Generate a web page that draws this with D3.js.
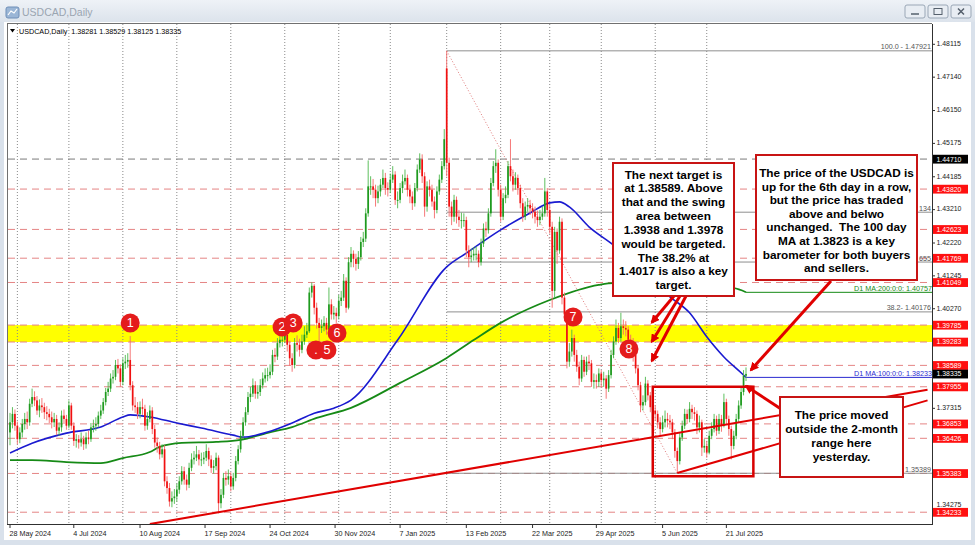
<!DOCTYPE html>
<html><head><meta charset="utf-8">
<script src="https://cdn.jsdelivr.net/npm/d3@7"></script>
<style>html,body{margin:0;padding:0;background:#fff;overflow:hidden}svg{display:block}</style>
</head><body>
<svg id="c" width="975" height="545"></svg>
<script>
// ---------------- DATA (prices x 10000) ----------------
const closeP = [
13690,13715,13680,13640,13660,13685,13700,13690,13745,13765,
13755,13725,13740,13735,13720,13715,13705,13690,13700,13665,
13675,13710,13700,13680,13740,13680,13635,13640,13630,13640,
13625,13645,13640,13675,13680,13685,13710,13725,13750,13780,
13790,13820,13825,13860,13850,13810,13865,13870,13875,13800,
13740,13735,13715,13735,13730,13680,13700,13725,13670,13630,
13620,13595,13610,13515,13495,13455,13465,13470,13490,13515,
13545,13520,13505,13555,13580,13585,13595,13580,13580,13585,
13605,13580,13555,13560,13585,13450,13475,13525,13520,13530,
13500,13525,13575,13610,13650,13690,13720,13765,13775,13800,
13775,13780,13800,13820,13830,13830,13840,13890,13885,13925,
13935,13935,13950,13920,13880,13860,13925,13920,13905,13930,
13950,13960,14075,14095,14030,13985,13970,13975,13985,13965,
14040,14010,14015,14005,14050,14060,14110,14030,14165,14190,
14175,14160,14180,14225,14235,14310,14390,14390,14380,14355,
14375,14395,14415,14385,14380,14410,14425,14350,14350,14385,
14405,14415,14380,14360,14340,14385,14440,14470,14420,14330,
14390,14380,14345,14320,14375,14410,14450,14530,14460,14330,
14300,14350,14300,14290,14290,14290,14200,14180,14185,14190,
14190,14165,14220,14265,14260,14310,14400,14450,14460,14380,
14300,14355,14365,14450,14420,14395,14415,14385,14340,14300,
14330,14335,14325,14315,14300,14290,14300,14310,14375,14320,
14270,14080,14255,14200,14285,14060,14010,13870,13900,13940,
13890,13855,13820,13875,13840,13870,13865,13810,13815,13810,
13835,13815,13820,13790,13830,13890,13930,13970,13940,13975,
13970,13965,13935,13930,13890,13850,13800,13740,13750,13805,
13770,13735,13725,13715,13690,13670,13690,13700,13695,13690,
13660,13605,13575,13645,13680,13715,13700,13730,13720,13715,
13675,13690,13615,13620,13600,13650,13670,13700,13665,13700,
13680,13750,13700,13670,13620,13650,13700,13740,13780,13828.1,
13833.5];
const highP = [
13718,13735,13728,13692,13675,13700,13718,13722,13760,13790,
13782,13768,13758,13762,13748,13738,13730,13722,13718,13712,
13690,13725,13728,13712,13755,13748,13690,13655,13652,13660,
13650,13660,13665,13688,13698,13705,13722,13742,13762,13792,
13810,13835,13845,13875,13878,13862,13880,13890,13895,13946,
13812,13765,13750,13752,13760,13742,13720,13740,13735,13682,
13645,13632,13625,13622,13530,13510,13485,13492,13508,13530,
13560,13558,13535,13570,13598,13605,13620,13608,13600,13602,
13625,13615,13592,13578,13600,13592,13492,13540,13545,13550,
13542,13540,13590,13622,13665,13705,13735,13780,13795,13820,
13812,13800,13818,13838,13850,13852,13862,13905,13910,13940,
13955,13960,13975,13962,13932,13895,13940,13948,13938,13950,
13975,13985,14090,14105,14100,14045,14000,13995,14005,14000,
14090,14055,14035,14030,14068,14080,14130,14120,14180,14210,
14200,14190,14198,14240,14255,14325,14467,14420,14412,14395,
14392,14412,14440,14430,14402,14428,14450,14435,14375,14400,
14425,14440,14425,14395,14375,14400,14455,14488,14485,14432,
14405,14410,14395,14360,14390,14425,14465,14560,14792,14475,
14345,14365,14360,14320,14312,14310,14300,14215,14205,14210,
14212,14200,14235,14280,14285,14325,14415,14465,14500,14470,
14395,14370,14390,14465,14530,14440,14432,14425,14395,14355,
14345,14355,14350,14340,14330,14318,14320,14330,14415,14385,
14335,14285,14270,14265,14300,14295,14075,14020,13925,13965,
13950,13905,13870,13890,13885,13885,13890,13875,13835,13832,
13850,13845,13840,13830,13845,13905,13945,13995,13985,14015,
13995,13990,13975,13950,13940,13900,13860,13810,13770,13825,
13815,13780,13752,13740,13725,13705,13710,13725,13718,13712,
13700,13670,13615,13660,13695,13730,13728,13750,13742,13735,
13725,13710,13698,13640,13635,13665,13690,13715,13710,13715,
13712,13775,13760,13710,13680,13665,13715,13755,13795,13845,
13852.9];
const lowP = [
13622,13672,13665,13625,13628,13645,13668,13670,13680,13735,
13738,13712,13705,13718,13700,13696,13688,13672,13676,13652,
13650,13662,13685,13668,13672,13668,13620,13615,13612,13618,
13608,13612,13625,13632,13660,13665,13675,13700,13715,13740,
13768,13780,13805,13815,13835,13795,13800,13848,13852,13785,
13725,13718,13700,13702,13712,13665,13668,13690,13655,13615,
13600,13580,13585,13500,13478,13440,13438,13448,13455,13478,
13505,13505,13488,13495,13545,13565,13575,13562,13560,13566,
13575,13560,13540,13538,13548,13420,13435,13465,13502,13505,
13485,13490,13515,13565,13600,13640,13680,13712,13750,13765,
13760,13760,13768,13790,13808,13812,13820,13830,13868,13875,
13912,13915,13925,13900,13858,13840,13850,13900,13885,13895,
13920,13940,13955,14060,14010,13968,13930,13955,13960,13950,
13955,13995,13995,13985,13995,14035,14050,14015,14025,14150,
14150,14140,14145,14170,14210,14225,14300,14365,14355,14330,
14340,14360,14385,14365,14360,14370,14400,14335,14325,14340,
14370,14395,14360,14340,14320,14330,14375,14430,14400,14300,
14315,14360,14330,14295,14310,14365,14400,14440,14420,14300,
14275,14285,14280,14270,14265,14270,14180,14150,14165,14170,
14170,14150,14155,14210,14240,14250,14300,14390,14430,14360,
14285,14290,14340,14355,14405,14375,14380,14365,14325,14285,
14290,14315,14305,14295,14280,14270,14275,14290,14300,14300,
14250,14030,14060,14160,14190,14040,13990,13850,13855,13885,
13870,13840,13800,13810,13825,13830,13845,13795,13790,13790,
13795,13795,13795,13760,13780,13820,13880,13920,13925,13930,
13950,13945,13915,13905,13870,13835,13785,13720,13725,13740,
13755,13720,13705,13695,13672,13650,13660,13675,13675,13670,
13640,13585,13539,13565,13635,13670,13685,13690,13700,13695,
13655,13660,13590,13600,13585,13595,13640,13660,13650,13655,
13662,13675,13685,13650,13580,13610,13640,13690,13730,13770,
13812.5];
// opens equal the previous close, except at these bars (weekend gap / first bar)
const openOverride = {0: 13660, 178: 14740};

// moving averages (bar index, price)
const ma100Idx = [0,9,23,37,46,49,57,68,78,91,95,105,115,124,132,139,158,178,186,200,212,220,224,228,236,246,269,277,284,291,298,300];
const ma100Val = [1.3599,1.3628,1.3658,1.3676,1.3706,1.3712,1.3706,1.3688,1.3673,1.3652,1.3646,1.3661,1.3688,1.3717,1.3732,1.3756,1.3934,1.4151,1.4192,1.4261,1.4311,1.4341,1.4344,1.4329,1.4270,1.4216,1.4062,1.4015,1.3944,1.3884,1.3837,1.3823];
const ma200Idx = [0,9,23,37,46,57,61,70,84,94,105,115,125,139,159,178,189,200,220,240,246,295,300];
const ma200Val = [1.3578,1.3578,1.3572,1.3569,1.3584,1.3602,1.3617,1.3629,1.3632,1.3638,1.3659,1.3676,1.3703,1.3733,1.3807,1.3881,1.3934,1.3985,1.4053,1.4098,1.4103,1.4088,1.4076];

// horizontal levels
const redLevels = [1.43820,1.42623,1.41769,1.41049,1.39785,1.39283,1.38589,1.37955,1.36853,1.36426,1.35383,1.34233];
const greyLevel = 1.44710;
const lastPrice = 1.38335;
const zoneTop = 1.39785, zoneBottom = 1.39283;

// fibonacci (anchors: bar 178 high, bar 272 low); labels as visible (partly hidden behind callouts)
const fibIdx = [178, 272];
const fibPrices = [1.47921,1.43134,1.41655,1.40176,1.35389];
const fibLabels = ["100.0 - 1.47921","134","655","38.2- 1.40176","1.35389"];

// axis ticks
const yTicks = [1.48115,1.47140,1.46150,1.45175,1.44185,1.43210,1.42220,1.41245,1.40270,1.37315,1.34275];
const xTickIdx = [0,26,53,79.5,106,132.5,159,186,213,239,266,292];
const xTickLab = ["28 May 2024","4 Jul 2024","10 Aug 2024","17 Sep 2024","24 Oct 2024","30 Nov 2024","7 Jan 2025","13 Feb 2025","22 Mar 2025","29 Apr 2025","5 Jun 2025","21 Jul 2025"];
const gridIdx = [3,24,46,68,90,112,134,155,178,200,220,241,263,284];

// trend lines (bar index, price)
const trend1 = [[57, 1.33881],[374, 1.37866]];
const trend2 = [[272, 1.35396],[374, 1.37550]];
// 2-month range box
const rangeBox = {i0: 262, i1: 303, top: 1.37955, bottom: 1.35300};

// numbered markers
const markerIdx = [49, 110.9, 115.4, 124.7, 129.2, 133.3, 229.5, 252.3];
const markerPrice = [1.39846,1.39727,1.39846,1.39044,1.39044,1.39549,1.40024,1.39074];
const markerText = ["1","2","3",".","5","6","7","8"];

const headerText = "USDCAD,Daily  1.38281 1.38529 1.38125 1.38335";

// ---------------- LAYOUT ----------------
const PL = 8, PR = 932, PT = 24, PB = 524;
const x = d3.scaleLinear().domain([0, 300]).range([10, 746]);
const y = d3.scaleLinear().domain([1.34275, 1.48115]).range([510.8, 44.3]);
const svg = d3.select("#c");
const FONT = "'Liberation Sans', Arial, sans-serif";

const defs = svg.append("defs");
defs.append("clipPath").attr("id","plot").append("rect").attr("x",PL).attr("y",PT).attr("width",PR-PL).attr("height",PB-PT);
const gr = defs.append("linearGradient").attr("id","tb").attr("x1",0).attr("y1",0).attr("x2",0).attr("y2",1);
gr.append("stop").attr("offset","0").attr("stop-color","#eef2f7");
gr.append("stop").attr("offset","1").attr("stop-color","#dce3ec");
defs.append("marker").attr("id","ah").attr("viewBox","0 0 10 10").attr("refX",8).attr("refY",5)
  .attr("markerWidth",9).attr("markerHeight",9).attr("markerUnits","userSpaceOnUse").attr("orient","auto")
  .append("path").attr("d","M0,0 L10,5 L0,10 z").attr("fill","#e00000");

// window frame
svg.append("rect").attr("width",975).attr("height",545).attr("fill","#d9e1eb");
svg.append("rect").attr("x",0).attr("y",0).attr("width",975).attr("height",22).attr("fill","url(#tb)");
svg.append("rect").attr("x",4).attr("y",22).attr("width",967).attr("height",518).attr("fill","#ffffff");
// title bar
const ic = svg.append("g").attr("transform","translate(6,7)");
ic.append("rect").attr("width",13).attr("height",11).attr("rx",2).attr("fill","#9bb6d6").attr("stroke","#6f8fb8");
ic.append("path").attr("d","M2,8 L5,4 L8,6 L11,2").attr("stroke","#ffffff").attr("fill","none").attr("stroke-width",1.2);
svg.append("text").attr("x",22).attr("y",16).attr("font-family",FONT).attr("font-size",10.5).attr("fill","#9aa5b1").text("USDCAD,Daily");
const btnX = [905, 928, 951];
btnX.forEach((bx,k)=>{
  const g = svg.append("g").attr("transform",`translate(${bx},5)`);
  g.append("rect").attr("width",20).attr("height",13).attr("rx",2).attr("fill","#e8edf3").attr("stroke","#9aa7b6");
  if(k===0) g.append("line").attr("x1",6).attr("x2",14).attr("y1",9).attr("y2",9).attr("stroke","#55606c").attr("stroke-width",1.5);
  if(k===1) g.append("rect").attr("x",6).attr("y",3.5).attr("width",8).attr("height",6).attr("fill","none").attr("stroke","#55606c");
  if(k===2) g.append("path").attr("d","M7,3.5 L13,9.5 M13,3.5 L7,9.5").attr("stroke","#55606c").attr("stroke-width",1.5);
});

const P = svg.append("g").attr("clip-path","url(#plot)");

// yellow zone
P.append("rect").attr("x",PL).attr("width",PR-PL).attr("y",y(zoneTop)).attr("height",y(zoneBottom)-y(zoneTop)).attr("fill","#ffff00");

// vertical grid
P.selectAll(".vg").data(gridIdx).join("line").attr("x1",d=>x(d)).attr("x2",d=>x(d)).attr("y1",PT).attr("y2",PB)
  .attr("stroke","#8a8a8a").attr("stroke-dasharray","1,2");

// dashed horizontal levels
P.selectAll(".rl").data(redLevels).join("line").attr("x1",PL).attr("x2",PR).attr("y1",d=>y(d)).attr("y2",d=>y(d))
  .attr("stroke","#e58484").attr("stroke-dasharray","7,5");
P.append("line").attr("x1",PL).attr("x2",PR).attr("y1",y(greyLevel)).attr("y2",y(greyLevel))
  .attr("stroke","#7a7a7a").attr("stroke-dasharray","7,5");

// fib levels
P.selectAll(".fb").data(fibPrices).join("line").attr("x1",x(fibIdx[0])).attr("x2",PR).attr("y1",d=>y(d)).attr("y2",d=>y(d))
  .attr("stroke","#8e8e8e").attr("stroke-width",1);
P.append("line").attr("x1",x(fibIdx[0])).attr("y1",y(fibPrices[0])).attr("x2",x(fibIdx[1])).attr("y2",y(fibPrices[4]))
  .attr("stroke","#e07a7a").attr("stroke-dasharray","1,2");
P.selectAll(".fbt").data(fibPrices).join("text").attr("x",PR-1).attr("y",d=>y(d)-1.5).attr("text-anchor","end")
  .attr("font-family",FONT).attr("font-size",7.2).attr("fill","#555")
  .text((d,k)=>fibLabels[k]);

// moving averages
const lineGen = d3.line().x(d=>x(d[0])).y(d=>y(d[1])).curve(d3.curveMonotoneX);
P.append("path").attr("d",lineGen(ma200Idx.map((d,k)=>[d,ma200Val[k]]))).attr("fill","none").attr("stroke","#168a16").attr("stroke-width",1.8);
P.append("path").attr("d",lineGen(ma100Idx.map((d,k)=>[d,ma100Val[k]]))).attr("fill","none").attr("stroke","#1a1ad0").attr("stroke-width",1.6);
// MA label lines
P.append("line").attr("x1",x(300)).attr("x2",PR).attr("y1",y(1.40757)).attr("y2",y(1.40757)).attr("stroke","#168a16");
P.append("line").attr("x1",x(300)).attr("x2",PR).attr("y1",y(1.38233)).attr("y2",y(1.38233)).attr("stroke","#2a2ad0");
P.append("text").attr("x",PR).attr("y",y(1.40757)-1.5).attr("text-anchor","end").attr("font-family",FONT).attr("font-size",7.2)
  .attr("fill","#168a16").text("D1 MA:200:0:0: 1.40757");
P.append("text").attr("x",PR).attr("y",y(1.38233)-1.5).attr("text-anchor","end").attr("font-family",FONT).attr("font-size",7.2)
  .attr("fill","#2a2ad0").text("D1 MA:100:0:0: 1.38233");

// candles
const bars = closeP.map((c,i)=>{
  const o = (openOverride[i]!==undefined ? openOverride[i] : closeP[i-1]) / 1e4;
  const cc = c/1e4;
  return {i, o, c: cc, h: Math.max(highP[i]/1e4, o, cc), l: Math.min(lowP[i]/1e4, o, cc)};
});
const bull = "#1f9a1f", bear = "#f01010";
P.selectAll(".wk").data(bars).join("line").attr("x1",d=>x(d.i)).attr("x2",d=>x(d.i))
  .attr("y1",d=>y(d.h)).attr("y2",d=>y(d.l)).attr("stroke",d=>d.c>=d.o?"#4cb84c":"#f46a6a").attr("stroke-width",0.9);
P.selectAll(".bd").data(bars).join("rect").attr("x",d=>x(d.i)-0.85).attr("width",1.7)
  .attr("y",d=>y(Math.max(d.o,d.c))).attr("height",d=>Math.max(1,Math.abs(y(d.o)-y(d.c))))
  .attr("fill",d=>d.c>=d.o?bull:bear);

// trend lines
[trend1, trend2].forEach(t=>{
  P.append("line").attr("x1",x(t[0][0])).attr("y1",y(t[0][1])).attr("x2",x(t[1][0])).attr("y2",y(t[1][1]))
    .attr("stroke","#e00000").attr("stroke-width",2);
});
// range box
P.append("rect").attr("x",x(rangeBox.i0)).attr("y",y(rangeBox.top)).attr("width",x(rangeBox.i1)-x(rangeBox.i0))
  .attr("height",y(rangeBox.bottom)-y(rangeBox.top)).attr("fill","none").attr("stroke","#d80000").attr("stroke-width",2.5);

// markers
const mk = P.selectAll(".mk").data(markerIdx).join("g").attr("transform",(d,k)=>`translate(${x(d)},${y(markerPrice[k])})`);
mk.append("circle").attr("r",9.5).attr("fill","#e41c1c");
mk.append("text").attr("y",4.3).attr("text-anchor","middle").attr("font-family",FONT).attr("font-size",12.5)
  .attr("fill","#fff").text((d,k)=>markerText[k]);

// callouts
function callout(x0,y0,w,h,cx,lines,ly0,lh){
  const g = svg.append("g");
  g.append("rect").attr("x",x0).attr("y",y0).attr("width",w).attr("height",h).attr("fill","#fff").attr("stroke","#c81414").attr("stroke-width",2);
  lines.forEach((t,k)=>g.append("text").attr("x",cx).attr("y",ly0+k*lh).attr("text-anchor","middle")
    .attr("font-family",FONT).attr("font-weight","bold").attr("font-size",11.8).attr("fill","#000").attr("xml:space","preserve").text(t));
}
function arrow(x1,y1,i,p){
  svg.append("line").attr("x1",x1).attr("y1",y1).attr("x2",x(i)).attr("y2",y(p)).attr("stroke","#e00000").attr("stroke-width",3)
    .attr("marker-end","url(#ah)");
}
arrow(674,296,261.6,1.3986);
arrow(680,296,261.6,1.3929);
arrow(686,296,261.6,1.3872);
arrow(831,281,302,1.3845);
arrow(781,409,300,1.3798);
callout(613,163,121,133,673.5,["The next target is","at 1.38589. Above","that and the swing","area between","1.3938 and 1.3978","would be targeted.","The 38.2% at","1.4017 is also a key","target."],178.5,13.85);
callout(756,155,161,125,836.5,["The price of the USDCAD is","up for the 6th day in a row,","but the price has traded","above and belwo","unchanged.  The 100 day","MA at 1.3823 is a key","barometer for both buyers","and sellers."],177,13.6);
callout(780,397,123,80,841.5,["The price moved","outside the 2-month","range here","yesterday."],419,14);

// axes frame
svg.append("line").attr("x1",PL-0.5).attr("x2",PL-0.5).attr("y1",PT).attr("y2",PB).attr("stroke","#707070");
svg.append("line").attr("x1",PL-1).attr("x2",PR).attr("y1",PT-0.5).attr("y2",PT-0.5).attr("stroke","#707070");
svg.append("line").attr("x1",PL-1).attr("x2",PR+0.5).attr("y1",PB+0.5).attr("y2",PB+0.5).attr("stroke","#303030");
svg.append("line").attr("x1",PR+0.5).attr("x2",PR+0.5).attr("y1",PT).attr("y2",PB+1).attr("stroke","#303030");

// y ticks (a tick label that collides with a price label sits just above it, as in the terminal)
const labelLevels = redLevels.concat([greyLevel, lastPrice]);
function tickTextY(d){
  const base = y(d)+1.8;
  const hit = labelLevels.find(p=>Math.abs(y(p)-y(d))<4 && y(p)>y(d));
  return hit!==undefined ? y(hit)-4.8 : base;
}
svg.selectAll(".yt").data(yTicks).join("line").attr("x1",PR).attr("x2",PR+3).attr("y1",d=>y(d)).attr("y2",d=>y(d)).attr("stroke","#303030");
svg.selectAll(".ytl").data(yTicks).join("text").attr("x",PR+4.5).attr("y",d=>tickTextY(d)).attr("font-family",FONT).attr("font-size",6.9)
  .attr("fill","#222").text(d=>d.toFixed(5));
// x ticks
svg.selectAll(".xt").data(xTickIdx).join("line").attr("x1",d=>x(d)).attr("x2",d=>x(d)).attr("y1",PB).attr("y2",PB+4).attr("stroke","#303030");
svg.selectAll(".xtl").data(xTickIdx).join("text").attr("x",d=>x(d)-0.5).attr("y",PB+11.5).attr("font-family",FONT).attr("font-size",7.2)
  .attr("fill","#222").text((d,k)=>xTickLab[k]);

// price labels on the axis
function plabel(p,bg){
  const g = svg.append("g").attr("transform",`translate(${PR+1},${y(p)})`);
  g.append("rect").attr("x",0).attr("y",-4.3).attr("width",35).attr("height",8.8).attr("fill",bg);
  g.append("text").attr("x",3.5).attr("y",2.5).attr("font-family",FONT).attr("font-size",6.9).attr("fill","#fff").text(p.toFixed(5));
}
redLevels.forEach(p=>plabel(p,"#ff1010"));
plabel(greyLevel,"#000000");
plabel(lastPrice,"#000000");

// header
svg.append("path").attr("d","M10,29 L15,29 L12.5,32.5 z").attr("fill","#000");
svg.append("text").attr("x",19).attr("y",33.5).attr("font-family",FONT).attr("font-size",7.2).attr("fill","#000")
  .attr("xml:space","preserve").text(headerText);
</script>
</body></html>
